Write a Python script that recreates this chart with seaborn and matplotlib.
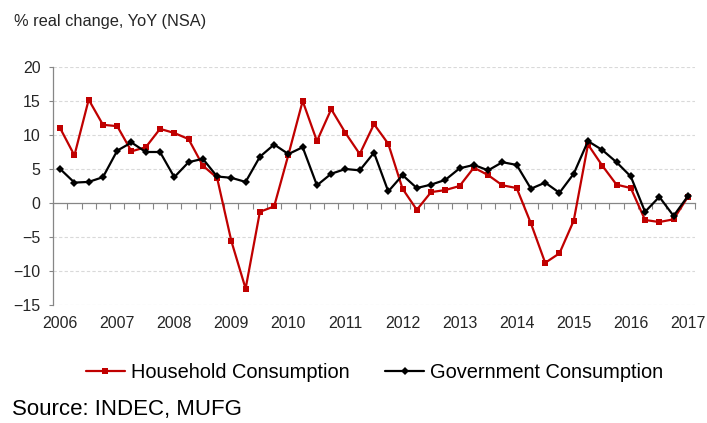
import matplotlib
matplotlib.use("Agg")
import matplotlib.pyplot as plt
import numpy as np
import pandas as pd
import seaborn as sns

# ---- data (quarterly, 2006Q1 .. 2017Q1) ----
years = ["2006", "2007", "2008", "2009", "2010", "2011", "2012",
         "2013", "2014", "2015", "2016", "2017"]
household = [11.0, 7.0, 15.2, 11.5, 11.3, 7.6, 8.2, 10.9, 10.3, 9.4, 5.5, 3.7,
             -5.6, -12.6, -1.3, -0.5, 7.1, 15.0, 9.1, 13.8, 10.3, 7.2, 11.6, 8.7,
             2.1, -1.0, 1.6, 1.9, 2.5, 5.2, 4.1, 2.6, 2.2, -3.0, -8.8, -7.4,
             -2.6, 8.6, 5.5, 2.7, 2.2, -2.5, -2.8, -2.4, 0.9]
government = [5.0, 3.0, 3.1, 3.8, 7.7, 8.9, 7.5, 7.5, 3.8, 6.0, 6.5, 3.9,
              3.7, 3.1, 6.8, 8.6, 7.2, 8.2, 2.6, 4.3, 5.0, 4.8, 7.4, 1.7,
              4.1, 2.2, 2.7, 3.4, 5.1, 5.6, 4.8, 6.0, 5.6, 2.1, 3.0, 1.5,
              4.3, 9.1, 7.8, 6.0, 3.9, -1.3, 0.9, -1.9, 1.0]
series_names = ["Household Consumption", "Government Consumption"]

idx = np.arange(len(household))
df = pd.DataFrame({"q": idx, "Household Consumption": household,
                   "Government Consumption": government})

sns.set_style("white")
plt.rcParams["font.family"] = ["Liberation Sans", "DejaVu Sans"]

fig = plt.figure(figsize=(7.07, 4.23), dpi=100)
ax = fig.add_axes([0.075, 0.279, 0.908, 0.5626])

RED = "#C00000"
sns.lineplot(data=df, x="q", y="Household Consumption", ax=ax, color=RED,
             linewidth=1.6, marker="s", markersize=6.4, markeredgewidth=0,
             label=series_names[0])
sns.lineplot(data=df, x="q", y="Government Consumption", ax=ax, color="black",
             linewidth=1.6, marker="D", markersize=5.0, markeredgewidth=0,
             label=series_names[1])

ax.set_xlim(-0.5, len(household) - 0.5)
ax.set_ylim(-15, 20)
ax.set_xlabel("")
ax.set_ylabel("")

# y axis
ax.set_yticks(np.arange(-15, 21, 5))
ax.tick_params(axis="y", which="major", length=3, width=0.8, color="#868686",
               labelsize=11.5, labelcolor="#262626", pad=6, left=True)
for v in np.arange(-15, 21, 5):
    if v != 0:
        ax.axhline(v, color="#D9D9D9", lw=0.8, ls=(0, (3, 2)), zorder=0)

# x axis labels at bottom
ax.set_xticks(np.arange(0, len(household), 4))
ax.set_xticklabels(years)
ax.tick_params(axis="x", which="major", length=0, labelsize=11.5,
               labelcolor="#262626", pad=8)

for s in ["top", "right", "bottom"]:
    ax.spines[s].set_visible(False)
ax.spines["left"].set_color("#868686")
ax.spines["left"].set_linewidth(0.9)

# zero line with quarter ticks
sec = ax.secondary_xaxis(15 / 35)
sec.set_xticks(np.arange(-0.5, len(household), 1.0))
sec.tick_params(axis="x", direction="out", length=4, width=0.8,
                color="#868686", labelbottom=False, labeltop=False,
                bottom=True, top=False)
sec.spines["bottom"].set_color("#868686")
sec.spines["bottom"].set_linewidth(0.9)
sec.xaxis.set_ticks_position("bottom")
sec.set_xticklabels([])

ax.get_legend().remove()
handles, labels = ax.get_legend_handles_labels()
for h in handles:
    h.set_markersize(4.3)
fig.legend(handles, labels, loc="center", bbox_to_anchor=(0.53, 0.12),
           ncol=2, frameon=False, fontsize=14.4, handlelength=1.95,
           handletextpad=0.3, columnspacing=1.8, labelcolor="#000000")

fig.text(0.02, 0.948, "% real change, YoY (NSA)", fontsize=11.75,
         color="#262626", va="center", ha="left")
fig.text(0.017, 0.031, "Source: INDEC, MUFG", fontsize=16,
         color="#000000", va="center", ha="left")

fig.savefig("out.png", dpi=100)
